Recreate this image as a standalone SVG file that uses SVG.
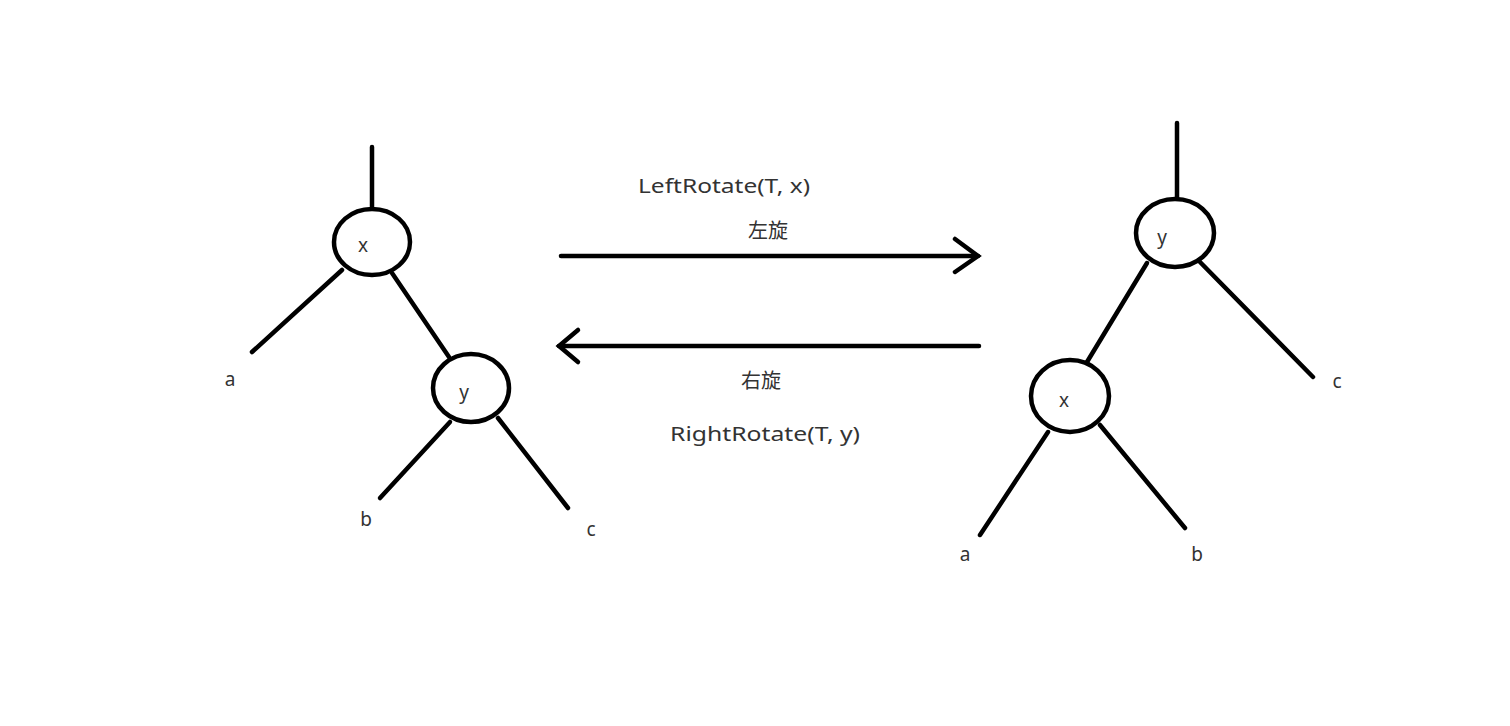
<svg xmlns="http://www.w3.org/2000/svg" width="1510" height="726" viewBox="0 0 1510 726">
<style>
.e{stroke:#000;stroke-width:4.5;stroke-linecap:round;fill:none}
.n{fill:#fff;stroke:#000;stroke-width:4.5}
.t{font-family:"Noto Sans","Liberation Sans",sans-serif;font-size:19px;fill:#333;text-anchor:middle}
.c{font-family:"Noto Sans CJK SC","Noto Sans",sans-serif;font-size:20px;fill:#333;text-anchor:middle}
</style>
<rect width="1510" height="726" fill="#fff"/>
<g id="connectors">
<line class="e" x1="372" y1="147" x2="372" y2="208"/>
<line class="e" x1="342" y1="270" x2="252" y2="352"/>
<line class="e" x1="392" y1="273" x2="449" y2="357"/>
<line class="e" x1="450" y1="422" x2="380" y2="498"/>
<line class="e" x1="498" y1="418" x2="568" y2="508"/>
<line class="e" x1="1177" y1="123" x2="1177" y2="198"/>
<line class="e" x1="1147" y1="263" x2="1087" y2="362"/>
<line class="e" x1="1200" y1="262" x2="1313" y2="377"/>
<line class="e" x1="1048" y1="432" x2="980" y2="535"/>
<line class="e" x1="1100" y1="425" x2="1185" y2="528"/>
<g id="arrow-left-rotate">
<line class="e" x1="561" y1="256" x2="978" y2="256"/>
<polyline class="e" points="955,239 978,256 955,272"/>
</g>
<g id="arrow-right-rotate">
<line class="e" x1="559" y1="346" x2="979" y2="346"/>
<polyline class="e" points="578,330 559,346 578,362"/>
</g>
</g>
<g id="node-left-x"><ellipse class="n" cx="372" cy="242" rx="38" ry="33"/><text class="t" x="363" y="252">x</text></g>
<g id="node-left-y"><ellipse class="n" cx="471" cy="388" rx="38" ry="34"/><text class="t" x="464" y="399">y</text></g>
<g id="node-right-y"><ellipse class="n" cx="1175" cy="233" rx="39" ry="34"/><text class="t" x="1162" y="244">y</text></g>
<g id="node-right-x"><ellipse class="n" cx="1070" cy="396" rx="39" ry="36"/><text class="t" x="1064" y="407">x</text></g>
<g id="leaves">
<text class="t" x="230" y="386">a</text>
<text class="t" x="366" y="526">b</text>
<text class="t" x="591" y="536">c</text>
<text class="t" x="1337" y="388">c</text>
<text class="t" x="965" y="561">a</text>
<text class="t" x="1197" y="561">b</text>
</g>
<g id="labels">
<text class="t" x="724" y="193" textLength="172" lengthAdjust="spacingAndGlyphs">LeftRotate(T, x)</text>
<text class="c" x="768" y="238">左旋</text>
<text class="c" x="761" y="388">右旋</text>
<text class="t" x="765" y="441" textLength="190" lengthAdjust="spacingAndGlyphs">RightRotate(T, y)</text>
</g>
</svg>
